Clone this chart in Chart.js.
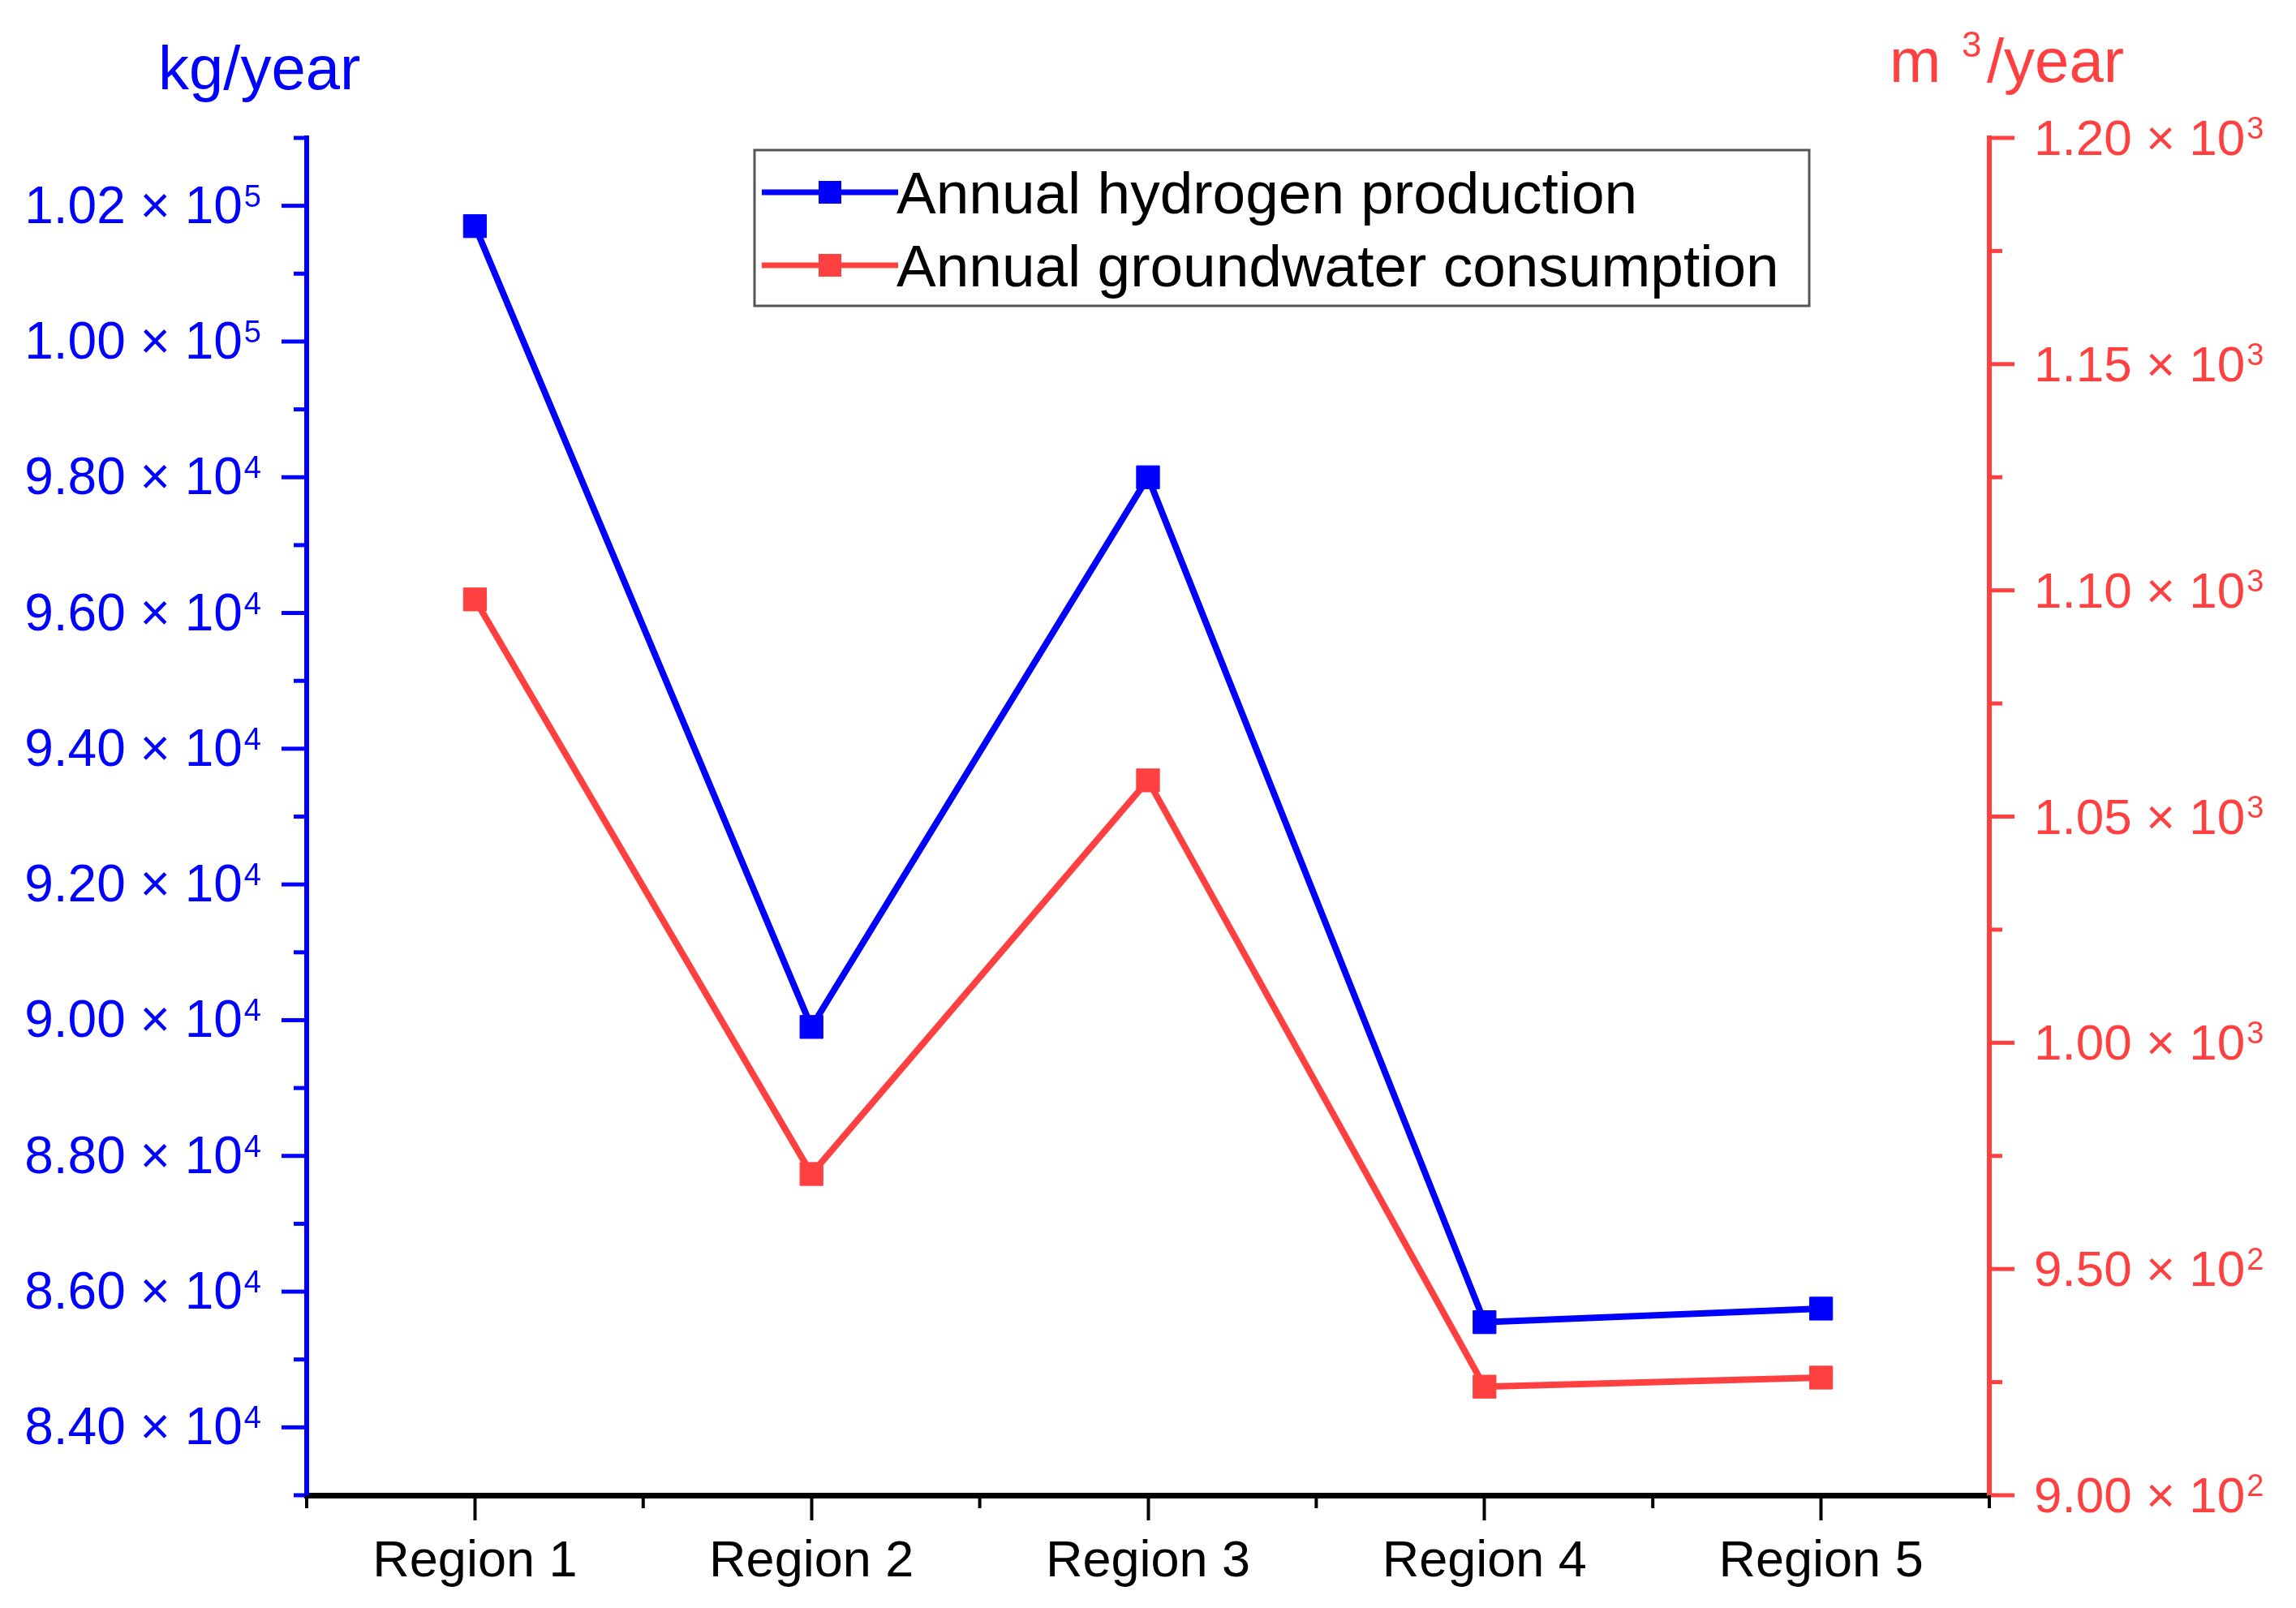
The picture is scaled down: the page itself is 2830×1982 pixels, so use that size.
<!DOCTYPE html>
<html>
<head>
<meta charset="utf-8">
<script src="https://cdn.jsdelivr.net/npm/chart.js@4.4.1/dist/chart.umd.min.js"></script>
<style>
  html, body { margin: 0; padding: 0; background: #fff; }
  canvas { display: block; }
</style>
</head>
<body>
<canvas id="chart" width="2830" height="1982"></canvas>
<script>
// categories along the x axis
const regions = ['Region 1', 'Region 2', 'Region 3', 'Region 4', 'Region 5'];
// kg/year (left axis)
const hydrogen = [101700, 89900, 98000, 85550, 85750];
// m3/year (right axis)
const groundwater = [1098, 971, 1058, 924, 926];
const seriesNames = ['Annual hydrogen production', 'Annual groundwater consumption'];
// axis ranges and tick steps
const leftRange = [83000, 103000];
const leftStep = 1000;      // minor, labels every 2000
const rightRange = [900, 1200];
const rightStep = 25;       // minor, labels every 50

const BLUE = '#0000ff';
const RED = '#ff4040';
const FONT = '"Liberation Sans", Arial, sans-serif';

// 98000 -> ['9.80 × 10', '4']
function sciParts(v) {
    const exp = Math.floor(Math.log10(v) + 1e-9);
    return [(v / Math.pow(10, exp)).toFixed(2) + ' \u00d7 10', String(exp)];
}

// tick marks, superscript labels, unit titles and the boxed legend
const decor = {
    id: 'decor',
    afterDraw(chart) {
        const ctx = chart.ctx;
        const area = chart.chartArea;
        ctx.save();
        ctx.textAlign = 'left';
        ctx.textBaseline = 'alphabetic';

        [['y', BLUE, -1, 2 * leftStep, 56, 64], ['y1', RED, 1, 2 * rightStep, 55, 62]].forEach(([id, color, dir, majorStep, gap, size]) => {
            const s = chart.scales[id];
            const x0 = dir < 0 ? area.left : area.right;
            ctx.strokeStyle = color;
            ctx.fillStyle = color;
            ctx.lineWidth = 5;
            s.ticks.forEach(t => {
                const y = s.getPixelForValue(t.value);
                const major = Math.round(t.value) % majorStep === 0;
                ctx.beginPath();
                ctx.moveTo(x0, y);
                ctx.lineTo(x0 + dir * (major ? 31 : 16), y);
                ctx.stroke();
                if (!major) return;
                const [m, e] = sciParts(t.value);
                ctx.font = size + 'px ' + FONT;
                const mw = ctx.measureText(m).width;
                ctx.font = '38px ' + FONT;
                const ew = ctx.measureText(e).width;
                const x = dir < 0 ? x0 - gap - mw - ew - 2 : x0 + gap;
                ctx.font = size + 'px ' + FONT;
                ctx.fillText(m, x, y + 21);
                ctx.font = '38px ' + FONT;
                ctx.fillText(e, x + mw + 2, y + 1);
            });
        });

        // short ticks between categories
        const xs = chart.scales.x;
        ctx.strokeStyle = '#000';
        ctx.lineWidth = 4;
        for (let i = 0; i <= regions.length; i++) {
            const x = xs.getPixelForValue(i - 0.5);
            ctx.beginPath();
            ctx.moveTo(x, area.bottom);
            ctx.lineTo(x, area.bottom + 16);
            ctx.stroke();
        }

        // unit titles
        ctx.fillStyle = BLUE;
        ctx.font = '76px ' + FONT;
        ctx.fillText('kg/year', 195, 110);
        ctx.fillStyle = RED;
        ctx.fillText('m', 2329, 101);
        ctx.fillText('/year', 2449, 101);
        ctx.font = '44px ' + FONT;
        ctx.fillText('3', 2418, 70);

        // legend
        const box = {x: 930, y: 185, w: 1300, h: 192};
        ctx.fillStyle = '#fff';
        ctx.fillRect(box.x, box.y, box.w, box.h);
        ctx.strokeStyle = '#555';
        ctx.lineWidth = 3;
        ctx.strokeRect(box.x, box.y, box.w, box.h);
        chart.data.datasets.forEach((ds, i) => {
            const cy = 237 + i * 90;
            ctx.strokeStyle = ds.borderColor;
            ctx.lineWidth = 7;
            ctx.beginPath();
            ctx.moveTo(939, cy);
            ctx.lineTo(1107, cy);
            ctx.stroke();
            ctx.fillStyle = ds.borderColor;
            ctx.fillRect(1023 - 14, cy - 14, 28, 28);
            ctx.fillStyle = '#000';
            ctx.font = '73px ' + FONT;
            ctx.fillText(ds.label, 1105, cy + 26);
        });
        ctx.restore();
    }
};

new Chart(document.getElementById('chart'), {
    type: 'line',
    data: {
        labels: regions,
        datasets: [
            {
                label: seriesNames[0],
                data: hydrogen,
                yAxisID: 'y',
                borderColor: BLUE,
                backgroundColor: BLUE,
                borderWidth: 8,
                pointStyle: 'rect',
                pointRadius: 20,
                pointBorderWidth: 1,
                tension: 0
            },
            {
                label: seriesNames[1],
                data: groundwater,
                yAxisID: 'y1',
                borderColor: RED,
                backgroundColor: RED,
                borderWidth: 8,
                pointStyle: 'rect',
                pointRadius: 20,
                pointBorderWidth: 1,
                tension: 0
            }
        ]
    },
    options: {
        responsive: false,
        animation: false,
        layout: { padding: { top: 170, left: 0, right: 0, bottom: 0 } },
        plugins: {
            legend: { display: false },
            tooltip: { enabled: false }
        },
        scales: {
            x: {
                offset: true,
                grid: { display: true, drawOnChartArea: false, drawTicks: true, tickLength: 31, tickWidth: 4, tickColor: '#000' },
                border: { display: true, color: '#000', width: 7 },
                ticks: { color: '#000', font: { family: FONT, size: 63 }, padding: 14 },
                afterFit(s) { s.height = 139; }
            },
            y: {
                position: 'left',
                min: leftRange[0],
                max: leftRange[1],
                ticks: { stepSize: leftStep, display: false },
                grid: { display: false },
                border: { display: true, color: BLUE, width: 6 },
                afterFit(s) { s.width = 378; }
            },
            y1: {
                position: 'right',
                min: rightRange[0],
                max: rightRange[1],
                ticks: { stepSize: rightStep, display: false },
                grid: { display: false },
                border: { display: true, color: RED, width: 6 },
                afterFit(s) { s.width = 378; }
            }
        }
    },
    plugins: [decor]
});
</script>
</body>
</html>
